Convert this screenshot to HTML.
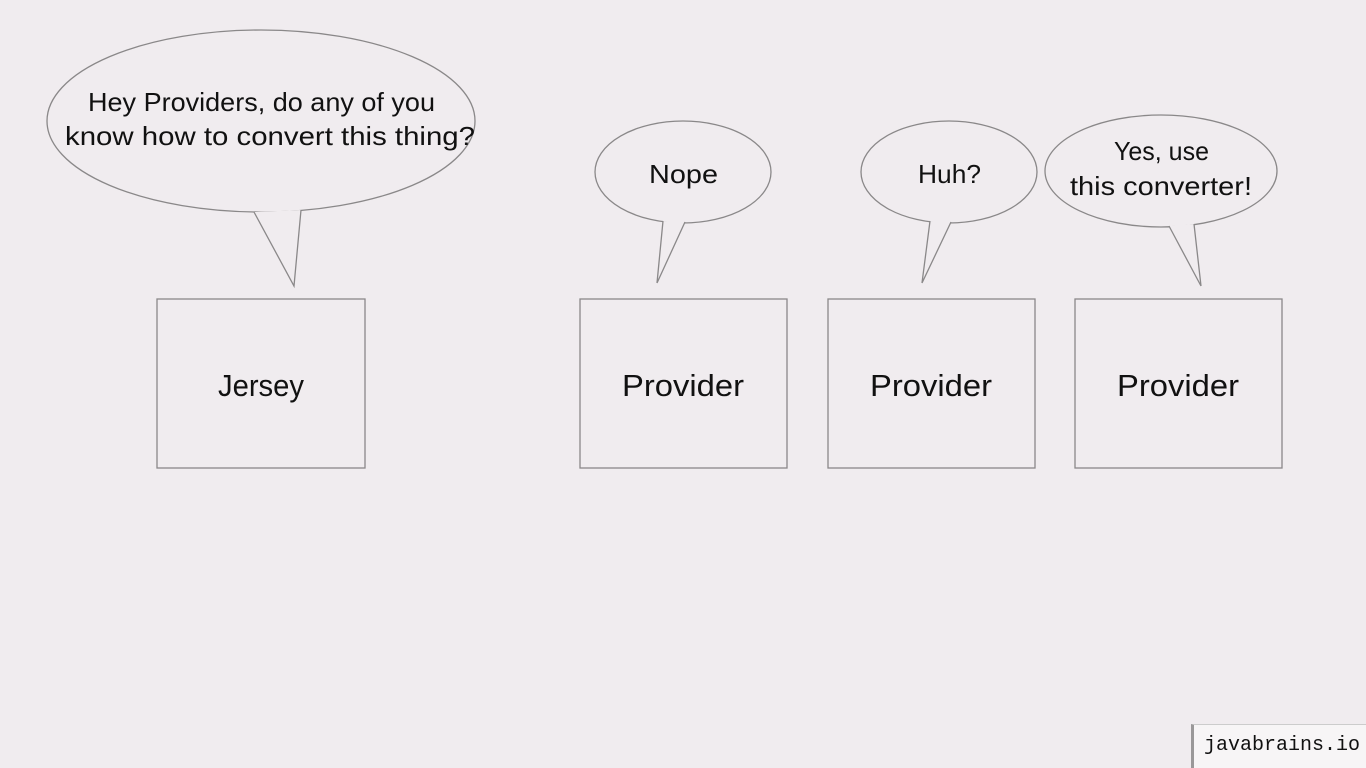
<!DOCTYPE html>
<html><head><style>
html,body{margin:0;padding:0;background:#f0ecef;}
body{width:1366px;height:768px;overflow:hidden;position:relative;}
svg{position:absolute;left:0;top:0;}
.wm{position:absolute;left:1191px;top:724px;width:175px;height:44px;background:#f7f5f6;border-left:3px solid #9a9899;border-top:1px solid #ccc;box-sizing:border-box;font-family:"Liberation Mono",monospace;font-size:20px;color:#111;line-height:42px;padding-left:10px;}
</style></head><body>
<svg width="1366" height="768" xmlns="http://www.w3.org/2000/svg" font-family="Liberation Sans, sans-serif" fill="#111">
<g stroke="#8a8889" stroke-width="1.3" fill="#f0ecef">
<ellipse cx="261" cy="121" rx="214" ry="91"/>
<polyline points="254,212 294,286 301,210"/>
<ellipse cx="683" cy="172" rx="88" ry="51"/>
<polyline points="663,221 657,283 685,222"/>
<ellipse cx="949" cy="172" rx="88" ry="51"/>
<polyline points="930,221 922,283 951,222"/>
<ellipse cx="1161" cy="171" rx="116" ry="56"/>
<polyline points="1169,226 1201,286 1194,224"/>
<rect x="157" y="299" width="208" height="169"/>
<rect x="580" y="299" width="207" height="169"/>
<rect x="828" y="299" width="207" height="169"/>
<rect x="1075" y="299" width="207" height="169"/>
</g>
<g font-size="26" fill="#111" lengthAdjust="spacingAndGlyphs">
<text x="88" y="111" textLength="347" lengthAdjust="spacingAndGlyphs">Hey Providers, do any of you</text>
<text x="65" y="145" textLength="410" lengthAdjust="spacingAndGlyphs">know how to convert this thing?</text>
<text x="649" y="183" textLength="69" lengthAdjust="spacingAndGlyphs">Nope</text>
<text x="918" y="183" textLength="63" lengthAdjust="spacingAndGlyphs">Huh?</text>
<text x="1114" y="160" textLength="95" lengthAdjust="spacingAndGlyphs">Yes, use</text>
<text x="1070" y="195" textLength="182" lengthAdjust="spacingAndGlyphs">this converter!</text>
</g>
<g font-size="31" fill="#111">
<text x="218" y="396" textLength="86" lengthAdjust="spacingAndGlyphs">Jersey</text>
<text x="622" y="396" textLength="122" lengthAdjust="spacingAndGlyphs">Provider</text>
<text x="870" y="396" textLength="122" lengthAdjust="spacingAndGlyphs">Provider</text>
<text x="1117" y="396" textLength="122" lengthAdjust="spacingAndGlyphs">Provider</text>
</g>
</svg>
<div class="wm">javabrains.io</div>
</body></html>
